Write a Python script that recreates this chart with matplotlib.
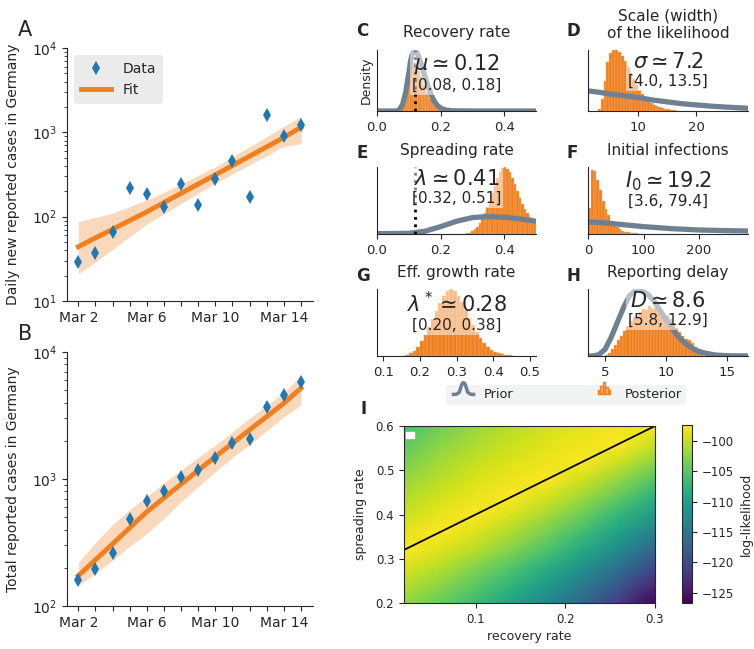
import matplotlib
matplotlib.use("Agg")
import matplotlib.pyplot as plt
import numpy as np
from matplotlib.lines import Line2D
from matplotlib.path import Path
from matplotlib.offsetbox import TextArea, VPacker, AnchoredOffsetbox

plt.rcParams['font.family'] = 'DejaVu Sans'
plt.rcParams['text.color'] = '#262626'
plt.rcParams['axes.labelcolor'] = '#262626'
plt.rcParams['xtick.color'] = '#262626'
plt.rcParams['ytick.color'] = '#262626'
plt.rcParams['axes.edgecolor'] = '#262626'

### data: reported cases, Germany, Mar 2 - Mar 15 ###
day_labels = ['Mar 2', 'Mar 6', 'Mar 10', 'Mar 14']
day_label_pos = [0, 4, 8, 12]
days = np.arange(14)
new_cases = [29, 37, 66, 220, 188, 129, 241, 136, 281, 451, 170, 1597, 910, 1210]
new_fit = [44, 56, 71, 90, 114, 147, 189, 244, 313, 405, 522, 673, 869, 1150]
new_lo = [21, 29, 41, 58, 82, 108, 143, 189, 249, 321, 412, 529, 680, 731]
new_hi = [87, 98, 110, 132, 158, 195, 245, 309, 389, 513, 676, 891, 1175, 1549]
tot_cases = [159, 196, 262, 482, 670, 799, 1040, 1176, 1457, 1908, 2078, 3675, 4585, 5795]
tot_fit = [173, 231, 308, 413, 552, 710, 910, 1170, 1500, 1910, 2440, 3100, 3950, 5200]
tot_lo = [144, 182, 229, 295, 372, 490, 661, 871, 1143, 1479, 1862, 2399, 3090, 3837]
tot_hi = [220, 316, 437, 575, 726, 933, 1175, 1479, 1854, 2344, 3020, 3800, 4786, 6607]

### data: posteriors (relative density per bin) and priors ###
c_bins = (0.060, 0.210)
c_post = [0, 0.01, 0.03, 0.06, 0.12, 0.22, 0.35, 0.48, 0.60, 0.70, 0.78, 0.80, 0.78, 0.74, 0.66,
          0.58, 0.50, 0.42, 0.35, 0.30, 0.25, 0.20, 0.16, 0.12, 0.09, 0.065, 0.045, 0.03, 0.02, 0.01]
c_prior_x = [0, 0.06, 0.07, 0.08, 0.09, 0.10, 0.105, 0.11, 0.115, 0.12, 0.125, 0.13, 0.14, 0.15,
             0.16, 0.17, 0.18, 0.19, 0.20, 0.21, 0.22, 0.24, 0.30, 0.50]
c_prior_y = [0, 0, 0.02, 0.10, 0.30, 0.62, 0.80, 0.92, 0.97, 0.98, 0.96, 0.91, 0.76, 0.58,
             0.41, 0.27, 0.16, 0.09, 0.05, 0.025, 0.012, 0.003, 0, 0]

d_bins = (2.5, 16.5)
d_post = [0, 0.04, 0.2, 0.5, 0.8, 0.95, 1.0, 1.0, 0.97, 0.9, 0.82, 0.72, 0.62, 0.52, 0.43, 0.35,
          0.28, 0.22, 0.17, 0.13, 0.10, 0.08, 0.06, 0.045, 0.035, 0.025, 0.018, 0.012]
d_prior_x = [1.3, 3, 5, 7.5, 10, 12.5, 15, 17.5, 20, 22.5, 25, 29]
d_prior_y = [0.33, 0.31, 0.28, 0.25, 0.22, 0.18, 0.15, 0.12, 0.10, 0.08, 0.065, 0.045]

e_bins = (0.28, 0.50)
e_post = [0.01, 0.02, 0.04, 0.07, 0.11, 0.16, 0.23, 0.31, 0.40, 0.50, 0.61, 0.72, 0.83, 0.92,
          0.98, 1.0, 0.97, 0.92, 0.84, 0.74, 0.64, 0.54, 0.45, 0.37, 0.31, 0.26, 0.22, 0.2]
e_prior_x = [0, 0.10, 0.15, 0.20, 0.25, 0.30, 0.35, 0.40, 0.45, 0.50]
e_prior_y = [0.005, 0.01, 0.04, 0.11, 0.19, 0.245, 0.26, 0.25, 0.225, 0.19]

f_bins = (0, 100)
f_post = [0.39, 0.96, 0.94, 0.80, 0.66, 0.50, 0.38, 0.28, 0.20, 0.14, 0.10, 0.07, 0.05, 0.035,
          0.025, 0.018, 0.012, 0.008, 0.005, 0.003]
f_prior_x = [0, 25, 50, 75, 100, 150, 200, 250, 288]
f_prior_y = [0.18, 0.17, 0.15, 0.13, 0.11, 0.08, 0.06, 0.05, 0.045]

g_bins = (0.15, 0.46)
g_post = [0.0, 0.01, 0.04, 0.08, 0.14, 0.22, 0.32, 0.43, 0.55, 0.67, 0.79, 0.89, 0.97, 1.0, 0.97,
          0.90, 0.80, 0.69, 0.57, 0.46, 0.36, 0.27, 0.19, 0.13, 0.09, 0.06, 0.04, 0.025, 0.015, 0.01, 0.005]

h_bins = (5.0, 13.0)
h_post = [0.02, 0.05, 0.10, 0.16, 0.24, 0.30, 0.38, 0.45, 0.52, 0.58, 0.60, 0.66, 0.70, 0.68,
          0.74, 0.70, 0.72, 0.69, 0.66, 0.62, 0.60, 0.55, 0.50, 0.42, 0.36, 0.30, 0.26, 0.24,
          0.20, 0.14, 0.08, 0.04]
h_prior_x = [3.6, 4, 4.5, 5, 5.5, 6, 6.5, 7, 7.5, 8, 8.5, 9, 9.5, 10, 10.5, 11, 11.5, 12, 12.5,
             13, 14, 15, 17]
h_prior_y = [0, 0, 0.02, 0.10, 0.28, 0.50, 0.72, 0.90, 0.98, 0.97, 0.92, 0.82, 0.68, 0.54, 0.41,
             0.29, 0.20, 0.13, 0.08, 0.05, 0.015, 0.004, 0]

true_value = 0.12

### data: log-likelihood grid ###
grid_mu = [0.02, 0.06, 0.10, 0.14, 0.18, 0.22, 0.26, 0.30]
grid_lam = [0.20, 0.24, 0.28, 0.32, 0.36, 0.40, 0.44, 0.48, 0.52, 0.56, 0.60]
loglik = [
    [-102.3, -104.2, -106.8, -109.8, -113.3, -117.2, -121.6, -126.5],
    [-100.6, -102.5, -104.9, -107.7, -110.9, -114.6, -118.8, -123.3],
    [-98.9, -100.7, -102.9, -105.5, -108.5, -112.0, -116.0, -120.2],
    [-97.5, -98.8, -100.6, -102.9, -105.7, -109.0, -112.8, -117.1],
    [-98.5, -97.5, -99.0, -101.0, -103.5, -106.5, -110.0, -114.0],
    [-99.7, -98.4, -97.5, -99.1, -101.3, -104.1, -107.3, -111.0],
    [-100.9, -99.4, -98.3, -97.5, -99.3, -101.7, -104.6, -108.1],
    [-102.2, -100.4, -99.1, -98.2, -97.5, -99.5, -102.1, -105.2],
    [-103.5, -101.5, -100.0, -98.9, -98.1, -97.5, -99.6, -102.4],
    [-104.8, -102.6, -101.0, -99.7, -98.7, -98.0, -97.5, -99.8],
    [-106.2, -103.7, -101.9, -100.6, -99.4, -98.6, -98.0, -97.5],
]
line_mu = [0.02, 0.30]
line_lam = [0.32, 0.60]
missing_cell = (0.022, 0.574, 0.009, 0.012)

W, H = 754, 649
fig = plt.figure(figsize=(W / 100, H / 100), dpi=100)


def px_axes(x0, y0, x1, y1):
    return fig.add_axes([x0 / W, 1 - y1 / H, (x1 - x0) / W, (y1 - y0) / H])


def letter(x, y, s, size=12, weight='bold'):
    fig.text(x / W, 1 - y / H, s, fontsize=size, weight=weight, va='baseline')


orange = '#f07f1e'
gray = '#6f8191'

### A and B ###
for (y0, y1, obs, fit, lo, hi, ylab, ylim) in [
        (48, 301, new_cases, new_fit, new_lo, new_hi, 'Daily new reported cases in Germany', (10, 1e4)),
        (352, 606, tot_cases, tot_fit, tot_lo, tot_hi, 'Total reported cases in Germany', (100, 1e4))]:
    ax = px_axes(67, y0, 313, y1)
    ax.fill_between(days, lo, hi, color=orange, alpha=0.3, lw=0)
    fl, = ax.plot(days, fit, color=orange, lw=3.5)
    dt, = ax.plot(days, obs, 'd', color='#1f77b4', ms=7, mew=0, ls='none')
    ax.set_yscale('log')
    ax.set_ylim(*ylim)
    ax.set_xlim(-0.66, 13.7)
    ax.set_xticks(days)
    ax.set_xticklabels([day_labels[day_label_pos.index(d)] if d in day_label_pos else '' for d in days])
    ax.tick_params(labelsize=10)
    ax.spines['top'].set_visible(False)
    ax.spines['right'].set_visible(False)
    ax.set_ylabel(ylab, fontsize=10)
    ax.yaxis.set_label_coords(-0.19, 0.5)
    if y0 == 48:
        leg = ax.legend([dt, fl], ['Data', 'Fit'], loc='upper left', fontsize=10,
                        frameon=True, facecolor='#ebebeb', edgecolor='none', framealpha=1,
                        handlelength=2.2, borderpad=0.5)

letter(18, 36, 'A', size=15, weight='normal')
letter(18, 340, 'B', size=15, weight='normal')


### C - H ###
def summary(ax, big, small):
    t1 = TextArea(big, textprops=dict(fontsize=15, color='#262626'))
    t2 = TextArea(small, textprops=dict(fontsize=11, color='#262626'))
    box = VPacker(children=[t1, t2], align='center', pad=0, sep=1)
    an = AnchoredOffsetbox(loc='upper center', child=box, pad=0.15, frameon=True, borderpad=0,
                           bbox_to_anchor=(0.5, 1.0), bbox_transform=ax.transAxes)
    an.patch.set_facecolor('white')
    an.patch.set_alpha(0.5)
    an.patch.set_edgecolor('none')
    an.set_zorder(5)
    ax.add_artist(an)


def dist_panel(rect, post, bins, xlim, title, big, small, prior_x=None, prior_y=None,
               xticks=None, true_line=False):
    ax = px_axes(*rect)
    edges = np.linspace(bins[0], bins[1], len(post) + 1)
    ax.bar(edges[:-1], post, width=np.diff(edges), align='edge', color=orange,
           edgecolor='#f9b27a', lw=0.3, zorder=1)
    if prior_x is not None:
        ax.plot(prior_x, prior_y, color=gray, lw=3.8, zorder=2, solid_capstyle='butt')
    if true_line:
        ax.axvline(true_value, color='k', ls=':', lw=2, zorder=3)
    ax.set_xlim(*xlim)
    ax.set_ylim(0, 1.0)
    ax.set_yticks([])
    if xticks is not None:
        ax.set_xticks(xticks)
    ax.tick_params(labelsize=9.5)
    ax.spines['top'].set_visible(False)
    ax.spines['right'].set_visible(False)
    ax.set_title(title, fontsize=11, pad=9)
    summary(ax, big, small)
    return ax


axC = dist_panel((377, 50, 536, 111), c_post, c_bins, (0, 0.5), 'Recovery rate',
                 r'$\mu \simeq 0.12$', '[0.08, 0.18]', c_prior_x, c_prior_y, [0, 0.2, 0.4], True)
axC.set_ylabel('Density', fontsize=9, labelpad=3)
dist_panel((588, 50, 748, 111), d_post, d_bins, (1.3, 29), 'Scale (width)\nof the likelihood',
           r'$\sigma \simeq 7.2$', '[4.0, 13.5]', d_prior_x, d_prior_y, [10, 20])
dist_panel((377, 167, 536, 234), e_post, e_bins, (0, 0.5), 'Spreading rate',
           r'$\lambda \simeq 0.41$', '[0.32, 0.51]', e_prior_x, e_prior_y, [0, 0.2, 0.4], True)
dist_panel((588, 167, 748, 234), f_post, f_bins, (0, 288), 'Initial infections',
           r'$I_0 \simeq 19.2$', '[3.6, 79.4]', f_prior_x, f_prior_y, [0, 100, 200])
dist_panel((377, 289, 536, 356), g_post, g_bins, (0.083, 0.516), 'Eff. growth rate',
           r'$\lambda^* \simeq 0.28$', '[0.20, 0.38]', None, None, [0.1, 0.2, 0.3, 0.4, 0.5])
dist_panel((588, 289, 748, 356), h_post, h_bins, (3.6, 16.7), 'Reporting delay',
           r'$D \simeq 8.6$', '[5.8, 12.9]', h_prior_x, h_prior_y, [5, 10, 15])

letter(356, 36, 'C')
letter(566, 36, 'D')
letter(356, 158, 'E')
letter(566, 158, 'F')
letter(356, 281, 'G')
letter(566, 281, 'H')

# legend with custom icons
bell = Path([(-1, 0), (-0.6, 0.02), (-0.35, 0.2), (-0.2, 0.7), (-0.1, 0.95), (0, 1),
             (0.1, 0.95), (0.2, 0.7), (0.35, 0.2), (0.6, 0.02), (1, 0)])
bars = []
for bx, bh in [(-0.5, 0.35), (-0.3, 0.7), (-0.1, 1.0), (0.1, 0.6), (0.3, 0.3)]:
    bars.append(Path([(bx, 0), (bx, bh), (bx + 0.2, bh), (bx + 0.2, 0), (bx, 0)],
                     [Path.MOVETO, Path.LINETO, Path.LINETO, Path.LINETO, Path.CLOSEPOLY]))
hist_icon = Path.make_compound_path(*bars)
h_prior = Line2D([], [], marker=bell, ms=17, mew=2.5, mec=gray, mfc='none', ls='none')
h_post = Line2D([], [], marker=hist_icon, ms=17, mew=1, mec=orange, mfc='#fbc290', ls='none')
fig.legend([h_prior, h_post], ['Prior', 'Posterior'], loc='center', ncol=2, mode='expand',
           bbox_to_anchor=(440 / W, 1 - 407 / H, 252 / W, 24 / H), fontsize=9.3,
           frameon=True, facecolor='#f2f3f4', edgecolor='none', framealpha=1,
           handletextpad=0.6, borderpad=0.3)

### I ###
axI = px_axes(404, 426, 655, 603)
mesh = axI.pcolormesh(grid_mu, grid_lam, np.array(loglik), shading='gouraud', cmap='viridis',
                      vmin=-126.7, vmax=-97.4)
axI.plot(line_mu, line_lam, color='k', lw=1.3)
axI.add_patch(plt.Rectangle(missing_cell[:2], missing_cell[2], missing_cell[3], color='white', zorder=3))
axI.set_xlim(0.02, 0.3)
axI.set_ylim(0.2, 0.6)
axI.set_xticks([0.1, 0.2, 0.3])
axI.set_yticks([0.2, 0.3, 0.4, 0.5, 0.6])
axI.tick_params(labelsize=8.5)
axI.set_xlabel('recovery rate', fontsize=9, labelpad=3)
axI.set_ylabel('spreading rate', fontsize=9, labelpad=6)
cax = px_axes(682, 425, 692, 603)
cb = fig.colorbar(mesh, cax=cax, ticks=[-100, -105, -110, -115, -120, -125])
cb.ax.tick_params(labelsize=8.5)
cb.set_label('log-likelihood', fontsize=9)
cb.outline.set_linewidth(0.8)
letter(361, 414, 'I')

fig.savefig('out.png', dpi=100)
